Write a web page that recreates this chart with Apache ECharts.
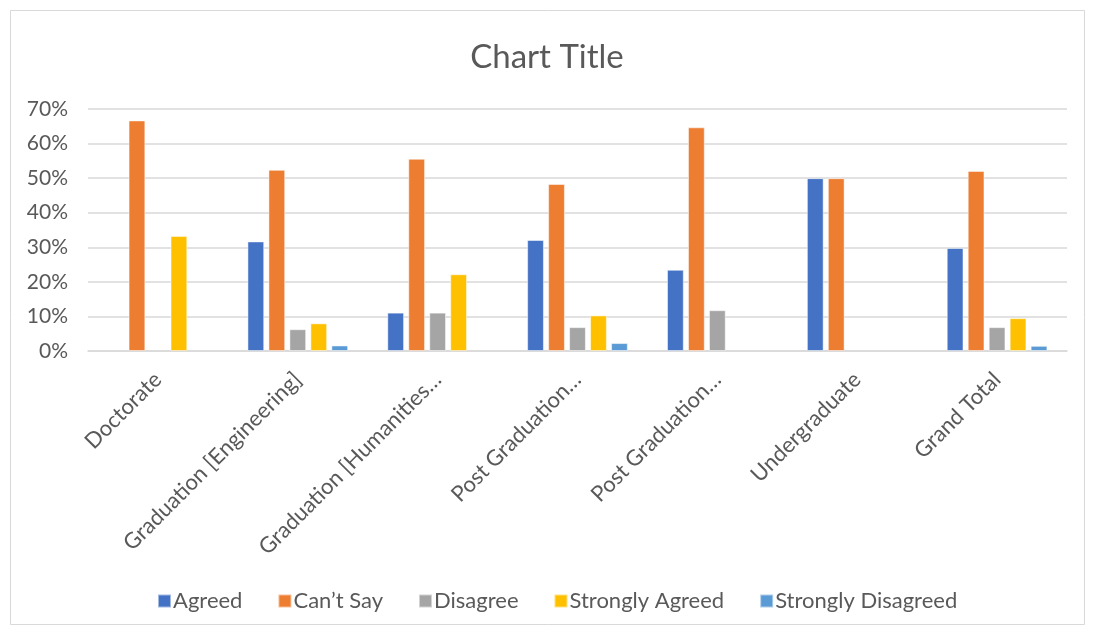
<!DOCTYPE html>
<html>
<head>
<meta charset="utf-8">
<script src="https://cdn.jsdelivr.net/npm/echarts@6/dist/echarts.min.js"></script>
<style>
  html, body { margin: 0; padding: 0; background: #fff; }
  #chart { width: 1094px; height: 634px; }
</style>
</head>
<body>
<div id="chart"></div>
<script>
// Response share by education level (percent)
const categories = [
  'Doctorate',
  'Graduation [Engineering]',
  'Graduation [Humanities…',
  'Post Graduation…',
  'Post Graduation…',
  'Undergraduate',
  'Grand Total'
];
const agreed            = [null, 31.7, 11.1, 32.1, 23.5, 50.0, 29.8];
const cantSay           = [66.7, 52.4, 55.6, 48.3, 64.7, 50.0, 52.1];
const disagree          = [null,  6.3, 11.1,  6.9, 11.8, null,  6.9];
const stronglyAgreed    = [33.3,  8.0, 22.2, 10.3, null, null,  9.5];
const stronglyDisagreed = [null,  1.6, null,  2.3, null, null,  1.5];
const yTicks = [0, 10, 20, 30, 40, 50, 60, 70];

const seriesDefs = [
  { name: 'Agreed', data: agreed, color: '#4472C4' },
  { name: 'Can\u2019t Say', data: cantSay, color: '#ED7D31' },
  { name: 'Disagree', data: disagree, color: '#A5A5A5' },
  { name: 'Strongly Agreed', data: stronglyAgreed, color: '#FFC000' },
  { name: 'Strongly Disagreed', data: stronglyDisagreed, color: '#5B9BD5' }
];

const font = 'Lato, "Open Sans", sans-serif';
const textColor = '#595959';

const chart = echarts.init(document.getElementById('chart'), null, { renderer: 'canvas' });
chart.setOption({
  animation: false,
  backgroundColor: '#fff',
  textStyle: { fontFamily: font },
  title: {
    text: 'Chart Title',
    left: 'center',
    top: 36,
    textStyle: { fontFamily: font, fontSize: 33, fontWeight: 'normal', color: textColor }
  },
  graphic: [{
    type: 'rect',
    shape: { x: 10.5, y: 10.5, width: 1074, height: 614 },
    style: { fill: 'none', stroke: '#d9d9d9', lineWidth: 1 },
    silent: true
  }],
  legend: {
    bottom: 17,
    left: 152,
    itemWidth: 13,
    itemHeight: 13,
    itemGap: 35,
    icon: 'rect',
    textStyle: { fontFamily: font, fontSize: 22, color: textColor, padding: [0, 0, 0, -3] },
    data: seriesDefs.map(s => s.name)
  },
  grid: { left: 88, right: 27, top: 109, bottom: 283, containLabel: false },
  xAxis: {
    type: 'category',
    data: categories,
    axisLine: { lineStyle: { color: '#d9d9d9', width: 1.5 } },
    axisTick: { show: false },
    axisLabel: {
      rotate: 45,
      interval: 0,
      margin: 25,
      fontFamily: font,
      fontSize: 22,
      color: textColor
    }
  },
  yAxis: {
    type: 'value',
    min: yTicks[0],
    max: yTicks[yTicks.length - 1],
    interval: 10,
    axisLine: { show: false },
    axisTick: { show: false },
    splitLine: { lineStyle: { color: '#d9d9d9', width: 1.5 } },
    axisLabel: {
      formatter: v => v + '%',
      margin: 20,
      fontFamily: font,
      fontSize: 21,
      color: textColor
    }
  },
  series: seriesDefs.map(s => ({
    name: s.name,
    type: 'bar',
    data: s.data,
    barGap: '25%',
    barCategoryGap: '28%',
    itemStyle: { color: s.color, borderColor: 'rgba(255,255,255,0.5)', borderWidth: 1 }
  }))
});
</script>
</body>
</html>
